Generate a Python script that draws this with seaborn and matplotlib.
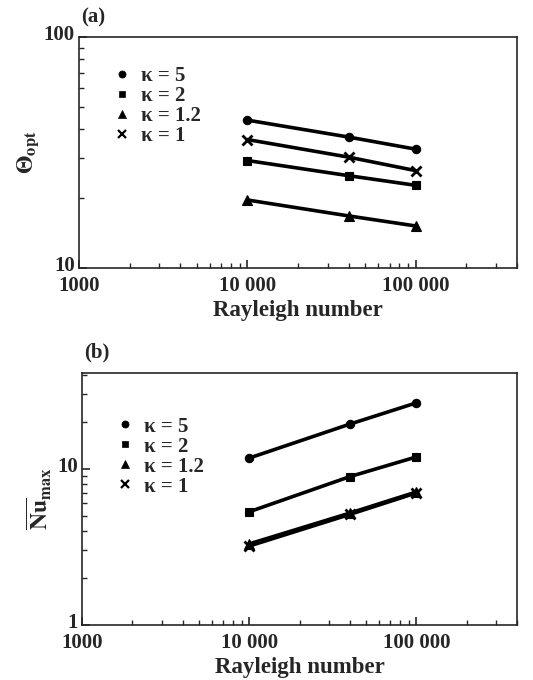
import numpy as np
import pandas as pd
import matplotlib
matplotlib.use("Agg")
import matplotlib.pyplot as plt
import matplotlib.transforms as mtransforms
import seaborn as sns
from matplotlib.lines import Line2D
from matplotlib.ticker import LogLocator, NullFormatter

rayleigh = [10000, 40000, 100000]
kappas = ["κ = 5", "κ = 2", "κ = 1.2", "κ = 1"]
theta_k5 = [43.7, 36.9, 32.7]
theta_k2 = [29.2, 25.1, 22.8]
theta_k12 = [19.7, 16.8, 15.2]
theta_k1 = [36.0, 30.2, 26.4]
nu_k5 = [11.7, 19.3, 26.4]
nu_k2 = [5.3, 8.9, 11.9]
nu_k12 = [3.3, 5.2, 7.1]
nu_k1 = [3.2, 5.1, 7.0]

markers = {"κ = 5": "o", "κ = 2": "s", "κ = 1.2": "^", "κ = 1": "x"}
msizes = {"κ = 5": 6, "κ = 2": 5.5, "κ = 1.2": 6.5, "κ = 1": 7}

def make_df(vals):
    rows = []
    for k, v in zip(kappas, vals):
        for r, y in zip(rayleigh, v):
            rows.append({"Ra": r, "val": y, "kappa": k})
    return pd.DataFrame(rows)

df_a = make_df([theta_k5, theta_k2, theta_k12, theta_k1])
df_b = make_df([nu_k5, nu_k2, nu_k12, nu_k1])

sns.set_style("ticks")
plt.rcParams['font.family'] = ['Liberation Serif', 'DejaVu Serif']
plt.rcParams['mathtext.fontset'] = 'stix'

fig = plt.figure(figsize=(5.33, 6.80), dpi=100)
ax_a = fig.add_axes([0.148, 0.606, 0.822, 0.3394])
ax_b = fig.add_axes([0.154, 0.081, 0.816, 0.3705])

for ax, df, ylim, yticks, ylabel, panel, leg_y in [
    (ax_a, df_a, (10, 100), [10, 100], r'$\mathbf{\Theta}_{\mathbf{opt}}$', "(a)", 0.91),
    (ax_b, df_b, (1, 41), [1, 10], r'$\overline{\mathbf{Nu}}_{\mathbf{max}}$', "(b)", 0.86),
]:
    for k in kappas:
        sub = df[df.kappa == k]
        sns.lineplot(data=sub, x="Ra", y="val", ax=ax, color="black",
                     marker=markers[k], markersize=msizes[k], linewidth=2.6,
                     markeredgewidth=2 if k == "κ = 1" else 0.8,
                     markeredgecolor="black", legend=False)
    ax.set_xscale("log")
    ax.set_yscale("log")
    ax.set_xlim(1000, 400000)
    ax.set_ylim(*ylim)
    ax.set_xticks([1000, 10000, 100000])
    ax.set_xticklabels(["1000", "10 000", "100 000"])
    ax.set_yticks(yticks)
    ax.set_yticklabels([str(t) for t in yticks])
    ax.xaxis.set_minor_locator(LogLocator(base=10, subs=np.arange(2, 10)))
    ax.yaxis.set_minor_locator(LogLocator(base=10, subs=np.arange(2, 10)))
    ax.xaxis.set_minor_formatter(NullFormatter())
    ax.yaxis.set_minor_formatter(NullFormatter())
    ax.tick_params(which="major", direction="in", length=6, width=1.2,
                   labelsize=15)
    ax.tick_params(axis="x", which="major", pad=6)
    ax.tick_params(axis="y", which="major", pad=3)
    ax.tick_params(which="minor", direction="in", length=3.5, width=1.0)
    for lab in ax.get_xticklabels() + ax.get_yticklabels():
        lab.set_fontweight("bold")
    shift = mtransforms.ScaledTranslation(0, 0.045, fig.dpi_scale_trans)
    for lab in ax.get_yticklabels():
        lab.set_transform(lab.get_transform() + shift)
    for s in ax.spines.values():
        s.set_linewidth(1.2)
        s.set_visible(True)
    ax.set_xlabel("Rayleigh number", fontsize=16.5, fontweight="bold", labelpad=3)
    ax.set_ylabel(ylabel, fontsize=17, labelpad=2)
    ax.text(0.005, 1.04, panel, transform=ax.transAxes, fontsize=15,
            fontweight="bold", ha="left", va="bottom")
    handles = [Line2D([], [], color="black", linestyle="none",
                      marker=markers[k], markersize=msizes[k] * 0.85,
                      markeredgewidth=1.6 if k == "κ = 1" else 0.5)
               for k in kappas]
    ax.legend(handles, kappas, loc="upper left", bbox_to_anchor=(0.06, leg_y),
              frameon=False, prop={"size": 15, "weight": "bold"},
              handlelength=0.8, handletextpad=0.5, labelspacing=0.0,
              borderaxespad=0)

fig.savefig("out.png", dpi=100, facecolor="white")
